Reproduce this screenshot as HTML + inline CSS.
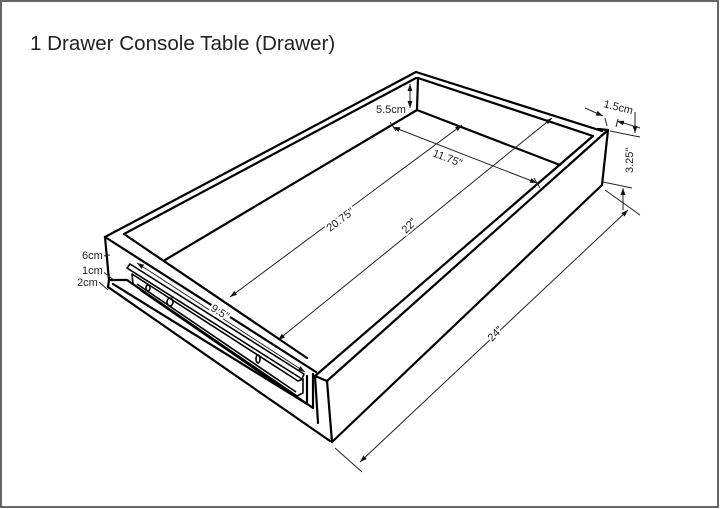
<!DOCTYPE html>
<html><head><meta charset="utf-8"><style>
html,body{margin:0;padding:0;background:#fff}
svg{display:block}
text{font-family:"Liberation Sans",Arial,sans-serif;fill:#222}
</style></head><body>
<svg width="720" height="509" viewBox="0 0 720 509" xmlns="http://www.w3.org/2000/svg">
<defs>
<marker id="a" viewBox="0 0 10 10" refX="10" refY="5" markerWidth="7" markerHeight="7" orient="auto-start-reverse"><path d="M0,1.5 L10,5 L0,8.5 z" fill="#111"/></marker>
</defs>
<rect x="1" y="1" width="717" height="506" fill="#fff" stroke="#555" stroke-width="1.8"/>
<text x="30" y="50" font-size="20.6">1 Drawer Console Table (Drawer)</text>

<g stroke="#000" stroke-width="2.2" fill="none" stroke-linejoin="round" stroke-linecap="round">
<line x1="105" y1="237" x2="416" y2="72"/>
<line x1="124" y1="234" x2="416" y2="78"/>
<line x1="416" y1="72" x2="602" y2="131"/>
<line x1="418" y1="78" x2="593" y2="136"/>
<line x1="418" y1="78" x2="417" y2="110"/>
<line x1="165" y1="260" x2="417" y2="110"/>
<line x1="417" y1="110" x2="560" y2="165"/>
<line x1="105" y1="237" x2="316" y2="372"/>
<line x1="124" y1="234" x2="307" y2="358"/>
<line x1="105" y1="237" x2="109" y2="280"/>
<polyline points="109,280 127,280 313,408 313,374"/>
<polyline points="113,284 307,404 307,376"/>
<line x1="108" y1="287" x2="330" y2="441"/>
<line x1="109" y1="280" x2="108" y2="287"/>
<line x1="593" y1="136" x2="315" y2="376"/>
<line x1="608" y1="130" x2="327" y2="381"/>
<line x1="598" y1="129" x2="608" y2="130"/>
<line x1="608" y1="130" x2="602" y2="185"/>
<line x1="602" y1="185" x2="332" y2="442"/>
<line x1="327" y1="381" x2="332" y2="442"/>
<line x1="315" y1="376" x2="327" y2="381"/>
<line x1="315" y1="376" x2="318" y2="423"/>
</g>
<g stroke="#000" stroke-width="1.6" fill="none" stroke-linejoin="round">
<path d="M127,268 L130,264 L304,374 L302,379 Z"/>
<path d="M132,274 L298,381 L303,379 L303,393 L297,396 L133,284 Z"/>
<line x1="137" y1="284" x2="296" y2="392"/>
<line x1="140" y1="290" x2="294" y2="396"/>
<ellipse cx="148" cy="288" rx="2" ry="3"/>
<ellipse cx="170" cy="302" rx="3" ry="4"/>
<ellipse cx="258" cy="359" rx="2" ry="4"/>
</g>

<g stroke="#222" stroke-width="1" fill="none">
<line x1="410" y1="84" x2="410" y2="108" marker-start="url(#a)" marker-end="url(#a)"/>
<line x1="393" y1="127" x2="537" y2="183" marker-start="url(#a)" marker-end="url(#a)"/>
<line x1="390" y1="122" x2="396" y2="131"/>
<line x1="534" y1="178" x2="540" y2="188"/>
<line x1="230" y1="297" x2="462" y2="125" marker-start="url(#a)" marker-end="url(#a)"/>
<line x1="278" y1="340" x2="552" y2="118" marker-start="url(#a)" marker-end="url(#a)"/>
<line x1="137" y1="263" x2="305" y2="372" marker-start="url(#a)" marker-end="url(#a)"/>
<line x1="360" y1="462" x2="628" y2="210" marker-start="url(#a)" marker-end="url(#a)"/>
<line x1="335" y1="448" x2="362" y2="472"/>
<line x1="605" y1="190" x2="640" y2="215"/>
<line x1="610" y1="131" x2="640" y2="137"/>
<line x1="603" y1="182" x2="632" y2="188"/>
<line x1="635" y1="112" x2="635" y2="133" marker-end="url(#a)"/>
<line x1="623" y1="210" x2="623" y2="188" marker-end="url(#a)"/>
<line x1="585" y1="108" x2="603" y2="116" marker-end="url(#a)"/>
<line x1="640" y1="128" x2="617" y2="121" marker-end="url(#a)"/>
<line x1="605" y1="118" x2="607" y2="126"/>
<line x1="618" y1="119" x2="616" y2="127"/>
<line x1="103" y1="256" x2="110" y2="255"/>
<line x1="101" y1="270" x2="115" y2="281"/>
<line x1="99" y1="282" x2="108" y2="290"/>
</g>
<g font-size="11" stroke="#fff" stroke-width="4" paint-order="stroke">
<text x="376" y="113">5.5cm</text>
<text x="0" y="0" transform="translate(432,156) rotate(21)">11.75"</text>
<text x="0" y="0" transform="translate(330,232) rotate(-37)">20.75"</text>
<text x="0" y="0" transform="translate(406,234) rotate(-45)">22"</text>
<text x="0" y="0" transform="translate(210,310) rotate(32)">9.5"</text>
<text x="0" y="0" transform="translate(492,342) rotate(-45)">24"</text>
<text x="0" y="0" transform="translate(633,173) rotate(-90)">3.25"</text>
<text x="0" y="0" transform="translate(603,107) rotate(14)">1.5cm</text>
<text x="82" y="259">6cm</text>
<text x="82" y="274">1cm</text>
<text x="77" y="286">2cm</text>
</g>
</svg>
</body></html>
